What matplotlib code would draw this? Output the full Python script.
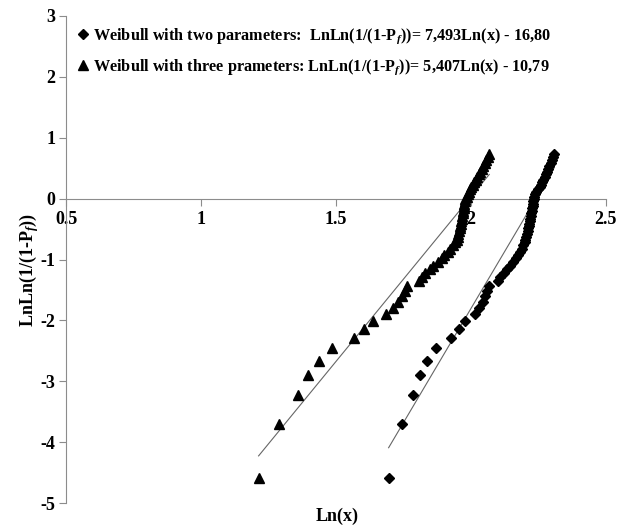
import matplotlib
matplotlib.use("Agg")
import matplotlib.pyplot as plt
import numpy as np

# ---- data ----
y_vals = [-4.59, -3.70, -3.23, -2.90, -2.66, -2.46, -2.29, -2.14, -2.01, -1.89,
          -1.79, -1.69, -1.60, -1.52, -1.44, -1.36, -1.29, -1.22, -1.16, -1.10,
          -1.04, -0.98, -0.93, -0.87, -0.82, -0.77, -0.72, -0.675, -0.63, -0.58,
          -0.54, -0.49, -0.45, -0.41, -0.37, -0.33, -0.28, -0.24, -0.20, -0.16,
          -0.12, -0.085, -0.046, -0.007, 0.033, 0.072, 0.111, 0.151, 0.19, 0.23,
          0.27, 0.31, 0.35, 0.40, 0.44, 0.48, 0.53, 0.58, 0.63, 0.68, 0.73]

x_two = [1.696, 1.746, 1.788, 1.813, 1.838, 1.873, 1.929, 1.958, 1.979, 2.016,
         2.030, 2.045, 2.055, 2.062, 2.068, 2.102, 2.110, 2.122, 2.133, 2.145,
         2.158, 2.168, 2.176, 2.184, 2.190, 2.196, 2.200, 2.203, 2.206, 2.209,
         2.211, 2.213, 2.215, 2.217, 2.219, 2.221, 2.223, 2.225, 2.226, 2.228,
         2.230, 2.231, 2.232, 2.234, 2.236, 2.239, 2.243, 2.250, 2.256, 2.262,
         2.266, 2.270, 2.275, 2.280, 2.284, 2.288, 2.292, 2.297, 2.301, 2.306, 2.310]

x_three = [1.214, 1.291, 1.360, 1.398, 1.438, 1.485, 1.566, 1.606, 1.639, 1.686,
           1.712, 1.730, 1.745, 1.757, 1.765, 1.808, 1.818, 1.832, 1.848, 1.862,
           1.880, 1.893, 1.903, 1.915, 1.925, 1.934, 1.943, 1.950, 1.953, 1.955,
           1.957, 1.959, 1.961, 1.963, 1.965, 1.967, 1.969, 1.971, 1.972, 1.974,
           1.976, 1.977, 1.979, 1.980, 1.985, 1.989, 1.993, 1.997, 2.001, 2.008,
           2.014, 2.020, 2.025, 2.031, 2.036, 2.041, 2.046, 2.052, 2.058, 2.063, 2.069]

fit_two = (7.493, -16.80)     # slope, intercept
fit_three = (5.407, -10.79)

label_two = "Weibull with two parameters:  LnLn(1/(1-P$_f$))= 7,493Ln(x) - 16,80"
label_three = "Weibull with three prameters: LnLn(1/(1-P$_f$))= 5,407Ln(x) - 10,79"

x_ticks = [0.5, 1, 1.5, 2, 2.5]
x_tick_labels = ["0.5", "1", "1.5", "2", "2.5"]
y_ticks = [-5, -4, -3, -2, -1, 0, 1, 2, 3]

# ---- style ----
plt.rcParams['font.family'] = ['Liberation Serif', 'DejaVu Serif']
plt.rcParams['font.weight'] = 'bold'
plt.rcParams['axes.unicode_minus'] = False
plt.rcParams['mathtext.fontset'] = 'custom'
plt.rcParams['mathtext.rm'] = 'Liberation Serif:bold'
plt.rcParams['mathtext.it'] = 'Liberation Serif:bold:italic'
plt.rcParams['mathtext.bf'] = 'Liberation Serif:bold'

fig = plt.figure(figsize=(6.31, 5.28), dpi=100)
ax = fig.add_axes([66/631, 1-503/528, (605.5-66)/631, (503-16)/528])

axis_gray = '#8c8c8c'
fs = 13
fs_leg = 11.7

# fit lines over the data range
for xs, (m, b) in [(x_two, fit_two), (x_three, fit_three)]:
    xr = np.array([min(xs), max(xs)])
    ax.plot(xr, m*xr + b, color='#666666', lw=0.8, zorder=2)

h1, = ax.plot(x_two, y_vals, linestyle='none', marker='D', markersize=5.5,
              color='black', label=label_two, zorder=3)
h2, = ax.plot(x_three, y_vals, linestyle='none', marker='^', markersize=7.5,
              color='black', label=label_three, zorder=3)

ax.set_xlim(0.5, 2.5)
ax.set_ylim(-5, 3)
ax.set_xticks(x_ticks)
ax.set_xticklabels(x_tick_labels)
ax.set_yticks(y_ticks)

ax.spines['top'].set_visible(False)
ax.spines['right'].set_visible(False)
ax.spines['bottom'].set_position(('data', 0))
ax.spines['bottom'].set_color(axis_gray)
ax.spines['left'].set_color(axis_gray)
ax.tick_params(axis='both', direction='out', length=5, color=axis_gray,
               labelsize=fs, width=0.8)
ax.tick_params(axis='x', pad=4)
ax.tick_params(axis='y', pad=2.5)
for lab in ax.get_xticklabels() + ax.get_yticklabels():
    lab.set_fontweight('bold')

ax.set_xlabel("Ln(x)", fontsize=fs, fontweight='bold')
ax.xaxis.set_label_coords(0.502, -0.010)
ax.set_ylabel("LnLn(1/(1-P$_f$))", fontsize=fs, fontweight='bold')
ax.yaxis.set_label_coords(-0.046, 0.478)

leg = ax.legend(handles=[h1, h2], loc='upper left',
                bbox_to_anchor=(79/631, 1-26/528), bbox_transform=fig.transFigure,
                frameon=False, fontsize=fs_leg, handlelength=0.5, handletextpad=0.35,
                labelspacing=0.75, borderpad=0, borderaxespad=0, markerscale=0.9)
for t in leg.get_texts():
    t.set_fontweight('bold')

fig.savefig("out.png", dpi=100)
